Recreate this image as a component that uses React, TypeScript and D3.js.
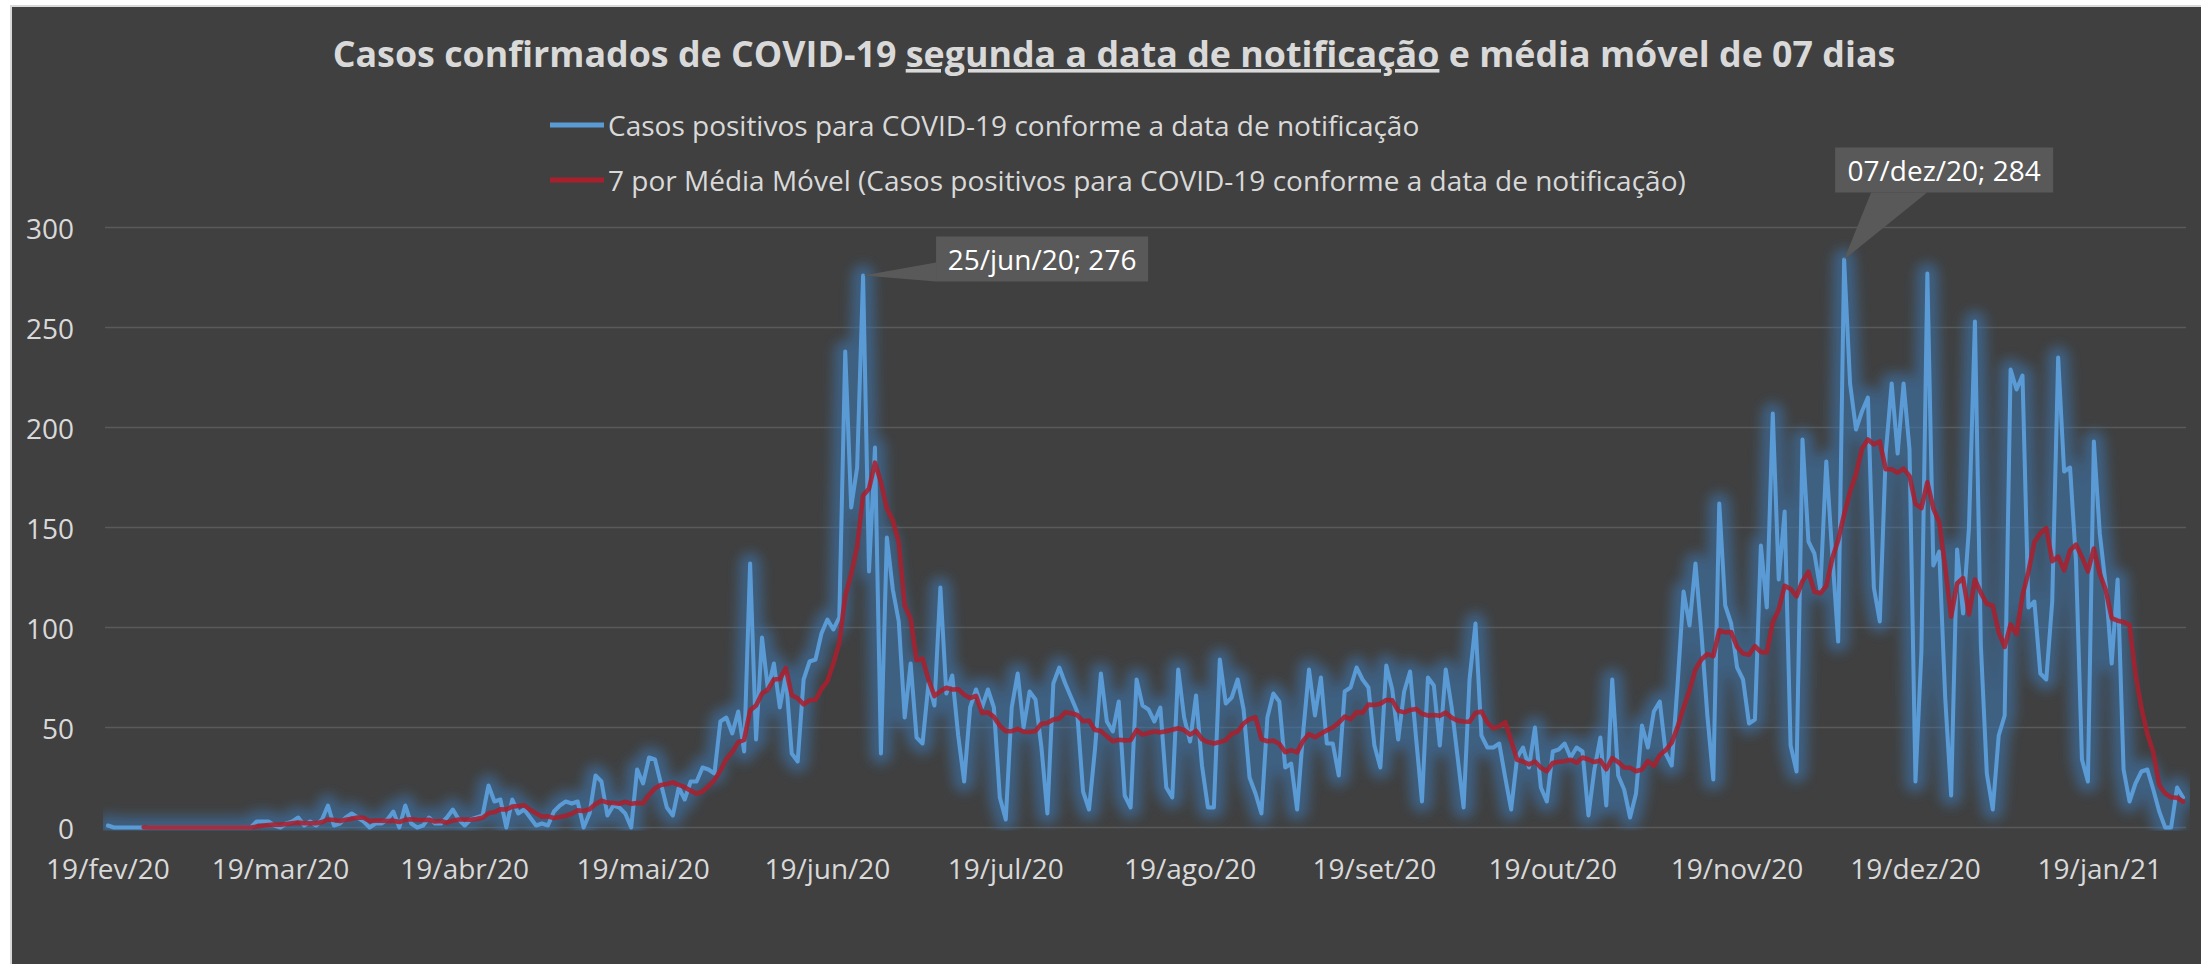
import React from 'react';
import * as d3 from 'd3';

// ---- DATA ----
const startDate = '2020-02-19';

// Daily confirmed cases (one value per day from 19/fev/20)
const dailyCases: number[] = [
  1, 0, 0, 0, 0, 0, 0, 0, 0, 0,
  0, 0, 0, 0, 0, 0, 0, 0, 0, 0,
  0, 0, 0, 0, 0, 3, 3, 3, 1, 0,
  2, 3, 5, 1, 3, 1, 4, 11, 1, 2,
  5, 7, 5, 3, 0, 2, 2, 4, 8, 0,
  11, 2, 0, 1, 5, 2, 2, 5, 9, 4,
  1, 4, 5, 6, 21, 13, 14, 0, 14, 7,
  9, 5, 1, 2, 1, 8, 11, 13, 12, 13,
  0, 7, 26, 23, 6, 11, 10, 7, 0, 29,
  22, 35, 34, 22, 10, 6, 20, 14, 23, 23,
  30, 29, 27, 53, 55, 47, 58, 38, 132, 44,
  95, 69, 82, 60, 76, 37, 33, 74, 83, 84,
  97, 104, 99, 105, 238, 160, 180, 276, 128, 190,
  37, 145, 119, 103, 55, 82, 45, 42, 72, 61,
  120, 67, 76, 46, 23, 60, 69, 60, 69, 60,
  15, 4, 60, 77, 50, 68, 64, 40, 7, 72,
  80, 72, 65, 58, 18, 9, 39, 77, 53, 48,
  63, 16, 10, 74, 61, 59, 53, 60, 20, 15,
  79, 55, 43, 66, 31, 10, 10, 84, 62, 65,
  74, 59, 25, 17, 7, 55, 67, 63, 30, 32,
  9, 47, 79, 56, 75, 42, 42, 26, 68, 70,
  80, 74, 70, 41, 30, 81, 69, 44, 68, 78,
  45, 13, 75, 71, 41, 79, 60, 35, 10, 74,
  102, 46, 40, 40, 42, 25, 9, 35, 40, 30,
  50, 20, 13, 38, 39, 42, 35, 40, 38, 6,
  29, 45, 11, 74, 26, 19, 5, 17, 51, 40,
  58, 63, 37, 31, 72, 118, 101, 132, 97, 56,
  24, 162, 111, 102, 80, 74, 52, 54, 141, 110,
  207, 124, 158, 41, 28, 194, 143, 137, 119, 183,
  137, 93, 284, 222, 199, 208, 215, 120, 103, 187,
  222, 187, 222, 189, 23, 88, 277, 131, 138, 65,
  16, 139, 107, 150, 253, 91, 27, 9, 46, 56,
  229, 219, 226, 110, 113, 77, 74, 113, 235, 178,
  180, 133, 34, 23, 193, 147, 121, 82, 124, 29,
  13, 22, 28, 29, 19, 8, 0, 0, 20, 15,
];

const movingAverageWindow = 7;

const yTicks = [0, 50, 100, 150, 200, 250, 300];

const xTickDates = [
  '2020-02-19', '2020-03-19', '2020-04-19', '2020-05-19', '2020-06-19', '2020-07-19',
  '2020-08-19', '2020-09-19', '2020-10-19', '2020-11-19', '2020-12-19', '2021-01-19',
];
const xTickLabels = [
  '19/fev/20', '19/mar/20', '19/abr/20', '19/mai/20', '19/jun/20', '19/jul/20',
  '19/ago/20', '19/set/20', '19/out/20', '19/nov/20', '19/dez/20', '19/jan/21',
];

const titleBefore = 'Casos confirmados de COVID-19 ';
const titleUnderlined = 'segunda a data de notificação';
const titleAfter = ' e média móvel de 07 dias';

const legendLabels = [
  'Casos positivos para COVID-19 conforme a data de notificação',
  '7 por Média Móvel (Casos positivos para COVID-19 conforme a data de notificação)',
];

const calloutDates = ['2020-06-25', '2020-12-07'];
const calloutLabels = ['25/jun/20; 276', '07/dez/20; 284'];

// ---- STYLE / LAYOUT ----
const W = 2201;
const H = 964;
const BG = '#404040';
const TEXT = '#d9d9d9';
const BLUE = '#5b9bd5';
const RED = '#a8202d';
const FONT = "'Open Sans', 'Noto Sans', sans-serif";
const plot = { left: 105, right: 2186, top: 227.5, bottom: 827.5 };

// callout box placement relative to the labelled point
const calloutBoxes = [
  { dx: 73, dy: -39, w: 212, h: 45, wedge: 'left' },
  { dx: -9, dy: -112, w: 218, h: 45, wedge: 'bottom' },
];

export default function App() {
  const parse = d3.utcParse('%Y-%m-%d');
  const start = parse(startDate) as Date;
  const dates = dailyCases.map((_, i) => d3.utcDay.offset(start, i));
  const last = dates[dates.length - 1];

  const x = d3
    .scaleUtc()
    .domain([d3.utcHour.offset(start, -12), d3.utcHour.offset(last, 12)])
    .range([plot.left, plot.right]);
  const y = d3.scaleLinear().domain([0, 300]).range([plot.bottom, plot.top]);

  const casesPts: [Date, number][] = dailyCases.map((v, i) => [dates[i], v]);
  const maPts: [Date, number][] = [];
  dailyCases.forEach((_, i) => {
    if (i >= movingAverageWindow - 1) {
      const m = d3.mean(dailyCases.slice(i - movingAverageWindow + 1, i + 1)) as number;
      maPts.push([dates[i], m]);
    }
  });

  const line = d3
    .line<[Date, number]>()
    .x((d) => x(d[0]))
    .y((d) => y(d[1]));

  const casesPath = line(casesPts) || '';
  const maPath = line(maPts) || '';

  return (
    <svg
      width={W}
      height={H}
      style={{ position: 'absolute', left: 0, top: 0, display: 'block' }}
      fontFamily={FONT}
    >
      <defs>
        <filter id="glow" x="-5%" y="-30%" width="110%" height="160%">
          <feGaussianBlur stdDeviation="6" />
        </filter>
        <clipPath id="plotClip">
          <rect x={plot.left - 2} y={60} width={plot.right - plot.left + 6} height={plot.bottom + 3 - 60} />
        </clipPath>
      </defs>

      <rect x={0} y={0} width={W} height={H} fill="#ffffff" />
      <rect x={11} y={6} width={W + 20} height={H + 20} fill={BG} stroke="#d9d9d9" strokeWidth={2} />

      {/* Title */}
      <text x={1114} y={67} textAnchor="middle" fontWeight="bold" fontSize={35.8} fill={TEXT}>
        <tspan>{titleBefore}</tspan>
        <tspan style={{ textDecoration: 'underline' }}>{titleUnderlined}</tspan>
        <tspan>{titleAfter}</tspan>
      </text>

      {/* Legend */}
      {legendLabels.map((lab, i) => (
        <g key={lab} transform={`translate(0, ${125 + i * 55})`}>
          <line x1={550} x2={604} y1={0} y2={0} stroke={i === 0 ? BLUE : RED} strokeWidth={5} />
          <text x={608} y={0} dominantBaseline="central" fontSize={28} fill={TEXT}>
            {lab}
          </text>
        </g>
      ))}

      {/* Gridlines */}
      {yTicks.map((t) => (
        <line
          key={t}
          x1={plot.left}
          x2={plot.right}
          y1={y(t)}
          y2={y(t)}
          stroke="#5a5a5a"
          strokeWidth={1.5}
        />
      ))}

      {/* Y tick labels */}
      {yTicks.map((t) => (
        <text key={t} x={74} y={y(t)} textAnchor="end" dominantBaseline="central" fontSize={28} fill={TEXT}>
          {t}
        </text>
      ))}

      {/* X tick labels */}
      {xTickDates.map((ds, i) => (
        <text
          key={ds}
          x={x(parse(ds) as Date)}
          y={868}
          textAnchor="middle"
          dominantBaseline="central"
          fontSize={28}
          fill={TEXT}
        >
          {xTickLabels[i]}
        </text>
      ))}

      {/* Glow behind blue series */}
      <g clipPath="url(#plotClip)">
        <path
          d={casesPath}
          fill="none"
          stroke="#3a75ad"
          strokeOpacity={0.6}
          strokeWidth={22}
          strokeLinejoin="round"
          strokeLinecap="round"
          filter="url(#glow)"
        />
      </g>

      {/* Series */}
      <path d={casesPath} fill="none" stroke={BLUE} strokeWidth={4} strokeLinejoin="round" strokeLinecap="round" />
      <path d={maPath} fill="none" stroke={RED} strokeOpacity={0.88} strokeWidth={4.6} strokeLinejoin="round" strokeLinecap="round" />

      {/* Callouts */}
      {calloutDates.map((ds, i) => {
        const dt = parse(ds) as Date;
        const idx = Math.round((dt.getTime() - start.getTime()) / 86400000);
        const px = x(dt);
        const py = y(dailyCases[idx]);
        const b = calloutBoxes[i];
        const bx = px + b.dx;
        const by = py + b.dy;
        const wedge =
          b.wedge === 'left'
            ? `M${px},${py} L${bx},${by + b.h - 19} L${bx},${by + b.h} Z`
            : `M${px},${py} L${bx + 36},${by + b.h} L${bx + 92},${by + b.h} Z`;
        return (
          <g key={ds}>
            <path d={wedge} fill="#595959" />
            <rect x={bx} y={by} width={b.w} height={b.h} fill="#595959" />
            <text
              x={bx + b.w / 2}
              y={by + b.h / 2}
              textAnchor="middle"
              dominantBaseline="central"
              fontSize={28}
              fill="#ffffff"
            >
              {calloutLabels[i]}
            </text>
          </g>
        );
      })}
    </svg>
  );
}
